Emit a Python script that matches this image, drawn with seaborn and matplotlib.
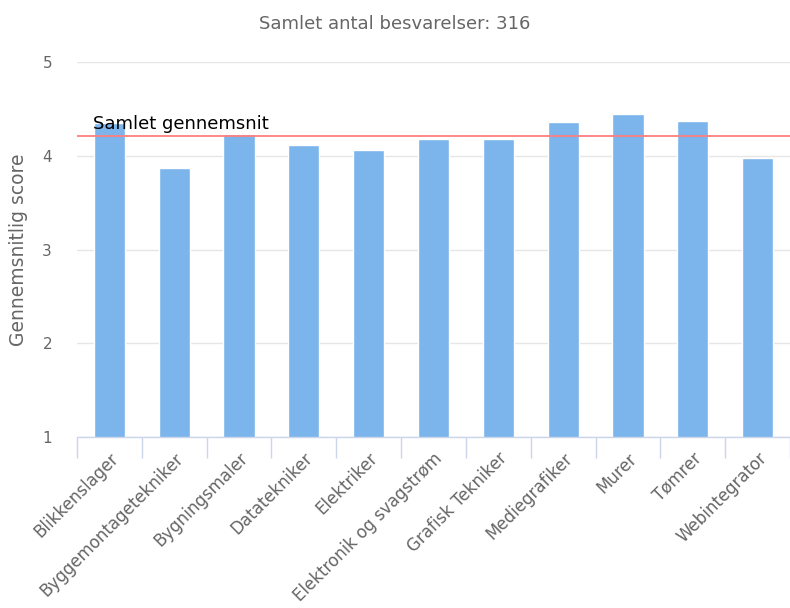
import matplotlib
matplotlib.use("Agg")
import matplotlib.pyplot as plt
import seaborn as sns
import pandas as pd
import numpy as np

categories = ["Blikkenslager", "Byggemontagetekniker", "Bygningsmaler", "Datatekniker",
              "Elektriker", "Elektronik og svagstrøm", "Grafisk Tekniker", "Mediegrafiker",
              "Murer", "Tømrer", "Webintegrator"]
scores = [4.35, 3.87, 4.23, 4.12, 4.06, 4.18, 4.18, 4.36, 4.44, 4.37, 3.98]
overall_mean = 4.21
title_text = "Samlet antal besvarelser: 316"
mean_label = "Samlet gennemsnit"
y_label = "Gennemsnitlig score"
y_ticks = [1, 2, 3, 4, 5]

sns.set_theme(style="white")
plt.rcParams['font.family'] = ['DejaVu Sans']

df = pd.DataFrame({"kategori": categories, "score": scores})

fig = plt.figure(figsize=(7.9, 6.08), dpi=100)
ax = fig.add_axes([77/790, (608-437)/608, (790-77)/790, (437-62)/608])

sns.barplot(data=df, x="kategori", y="score", color="#7cb5ec", saturation=1,
            width=0.48, edgecolor="white", linewidth=1, ax=ax, zorder=2)

ax.set_ylim(1, 5)
ax.set_xlim(-0.5, len(categories) - 0.5)
ax.set_yticks(y_ticks)
ax.set_yticklabels([str(t) for t in y_ticks], color="#666666", fontsize=11)
ax.yaxis.grid(True, color="#e6e6e6", linewidth=1, zorder=0)
ax.set_axisbelow(True)
ax.tick_params(axis="y", length=0, pad=18)

for s in ["top", "right", "left"]:
    ax.spines[s].set_visible(False)
ax.spines["bottom"].set_color("#ccd6eb")
ax.spines["bottom"].set_linewidth(1)

# category boundary ticks
ax.set_xticks(np.arange(len(categories) + 1) - 0.5, minor=True)
ax.tick_params(axis="x", which="minor", length=15, color="#ccd6eb", width=1, bottom=True)
ax.tick_params(axis="x", which="major", length=0, pad=9)
ax.set_xticks(range(len(categories)))
ax.set_xticklabels(categories, rotation=45, ha="right", rotation_mode="anchor",
                   color="#666666", fontsize=12)
ax.set_xlabel("")
ax.set_ylabel(y_label, color="#666666", fontsize=13.5)
ax.yaxis.set_label_coords(-(77 - 28) / 713, 0.5)

ax.axhline(overall_mean, color="#ff7f7f", linewidth=1.3, zorder=3)
ax.text(-0.25, overall_mean + 0.03, mean_label, color="black", fontsize=13,
        ha="left", va="bottom", zorder=4)

fig.text(0.5, 1 - 24/608, title_text, ha="center", va="center", color="#666666", fontsize=13)

fig.savefig("out.png", dpi=100)
